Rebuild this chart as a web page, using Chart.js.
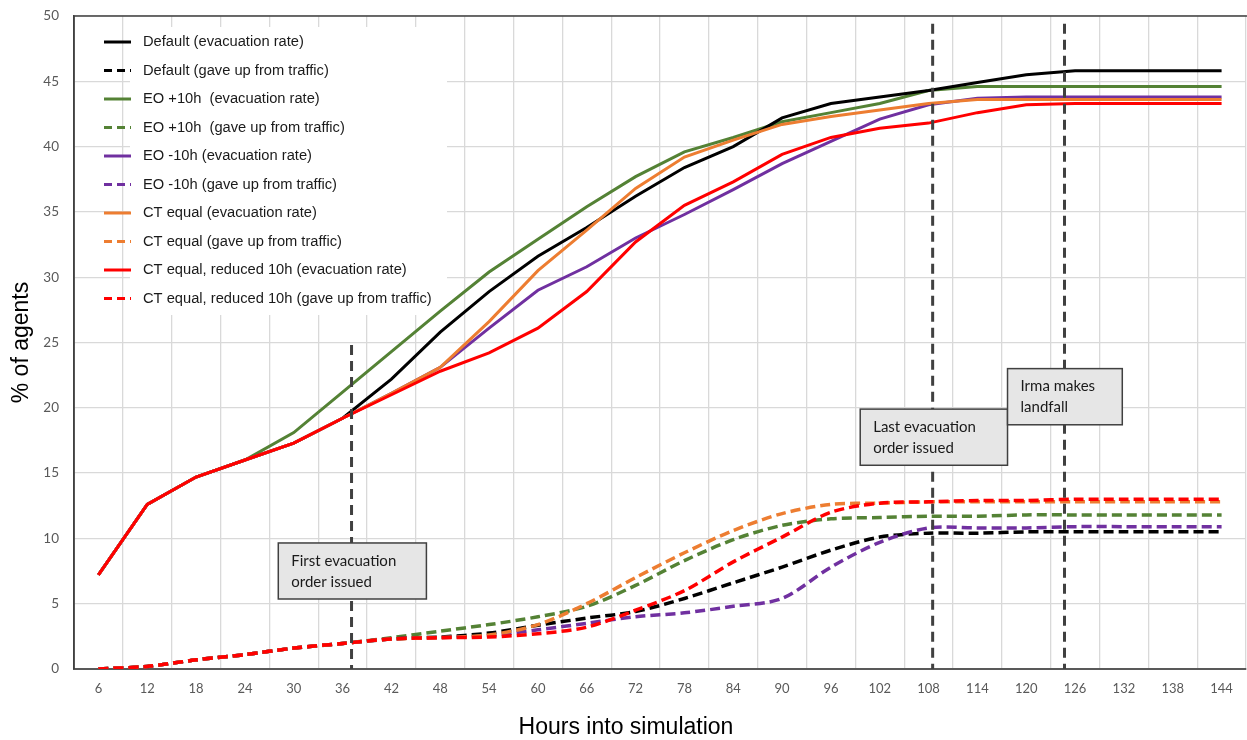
<!DOCTYPE html>
<html>
<head>
<meta charset="utf-8">
<script src="https://cdn.jsdelivr.net/npm/chart.js@4.4.1/dist/chart.umd.min.js"></script>
<style>
  body { margin: 0; background: #fff; }
  canvas { display: block; }
</style>
</head>
<body>
<canvas id="chart" width="1247" height="740"></canvas>
<script>
// hours into simulation (x categories)
const hours = [6, 12, 18, 24, 30, 36, 42, 48, 54, 60, 66, 72, 78, 84, 90, 96, 102, 108, 114, 120, 126, 132, 138, 144];

// % of agents
const defaultEvac   = [7.2, 12.6, 14.7, 16.0, 17.3, 19.2, 22.2, 25.8, 28.9, 31.6, 33.8, 36.2, 38.4, 40.0, 42.2, 43.3, 43.8, 44.3, 44.9, 45.5, 45.8, 45.8, 45.8, 45.8];
const defaultGaveUp = [0, 0.2, 0.7, 1.1, 1.6, 1.95, 2.3, 2.45, 2.75, 3.35, 3.9, 4.4, 5.4, 6.6, 7.8, 9.1, 10.1, 10.4, 10.4, 10.5, 10.5, 10.5, 10.5, 10.5];
const eoPlusEvac    = [7.2, 12.6, 14.7, 16.0, 18.1, 21.2, 24.3, 27.4, 30.4, 32.9, 35.4, 37.7, 39.6, 40.7, 41.9, 42.6, 43.3, 44.3, 44.6, 44.6, 44.6, 44.6, 44.6, 44.6];
const eoPlusGaveUp  = [0, 0.2, 0.7, 1.1, 1.6, 1.95, 2.4, 2.9, 3.4, 4.0, 4.8, 6.4, 8.3, 9.9, 11.0, 11.5, 11.6, 11.7, 11.7, 11.8, 11.8, 11.8, 11.8, 11.8];
const eoMinusEvac   = [7.2, 12.6, 14.7, 16.0, 17.3, 19.2, 21.1, 23.1, 26.1, 29.0, 30.8, 33.0, 34.8, 36.7, 38.7, 40.4, 42.1, 43.2, 43.7, 43.8, 43.8, 43.8, 43.8, 43.8];
const eoMinusGaveUp = [0, 0.2, 0.7, 1.1, 1.6, 1.95, 2.3, 2.4, 2.55, 3.0, 3.5, 4.0, 4.3, 4.8, 5.4, 7.8, 9.7, 10.8, 10.8, 10.8, 10.9, 10.9, 10.9, 10.9];
const ctEvac        = [7.2, 12.6, 14.7, 16.0, 17.3, 19.2, 21.1, 23.1, 26.6, 30.5, 33.6, 36.8, 39.2, 40.5, 41.7, 42.3, 42.8, 43.3, 43.6, 43.6, 43.6, 43.6, 43.6, 43.6];
const ctGaveUp      = [0, 0.2, 0.7, 1.1, 1.6, 1.95, 2.3, 2.4, 2.6, 3.4, 5.0, 7.0, 8.9, 10.6, 11.9, 12.6, 12.7, 12.8, 12.8, 12.8, 12.8, 12.8, 12.8, 12.8];
const ctRedEvac     = [7.2, 12.6, 14.7, 16.0, 17.3, 19.2, 21.0, 22.8, 24.2, 26.1, 28.9, 32.7, 35.5, 37.3, 39.4, 40.7, 41.4, 41.8, 42.6, 43.2, 43.3, 43.3, 43.3, 43.3];
const ctRedGaveUp   = [0, 0.2, 0.7, 1.1, 1.6, 1.95, 2.3, 2.4, 2.45, 2.7, 3.2, 4.5, 6.0, 8.2, 10.1, 12.0, 12.7, 12.8, 12.9, 12.9, 13.0, 13.0, 13.0, 13.0];

// event markers (hour of the dashed line, top of the line in %)
const eventHours = [37.1, 108.5, 124.7];
const eventTops  = [24.8, 49.4, 49.4];
const eventNotes = [
  { lines: ['First evacuation', 'order issued'], h0: 28.1, h1: 46.3, top: 9.65, bottom: 5.36 },
  { lines: ['Last evacuation', 'order issued'], h0: 99.6, h1: 117.7, top: 19.9, bottom: 15.6 },
  { lines: ['Irma makes', 'landfall'], h0: 117.7, h1: 131.8, top: 23.0, bottom: 18.7 }
];

const BLACK = '#000000', GREEN = '#548235', PURPLE = '#7030A0', ORANGE = '#ED7D31', RED = '#FF0000';

function solid(label, data, color, order) {
  return { label: label, data: data, borderColor: color, backgroundColor: color,
           borderWidth: 3, pointRadius: 0, tension: 0, order: order };
}
function dashed(label, data, color, order) {
  return { label: label, data: data, borderColor: color, backgroundColor: color,
           borderWidth: 3.5, borderDash: [10, 5], pointRadius: 0, tension: 0.3, order: order };
}

function hourPx(chart, h) {
  return chart.scales.x.getPixelForValue((h - 6) / 6);
}

const overlay = {
  id: 'overlay',
  beforeDatasetsDraw(chart) {
    const c = chart.ctx;
    c.save();
    c.fillStyle = '#ffffff';
    c.fillRect(130, 27, 317, 288);
    c.restore();
  },
  afterDatasetsDraw(chart) {
    const c = chart.ctx, y = chart.scales.y, a = chart.chartArea;
    c.save();
    // event lines
    c.strokeStyle = '#404040';
    c.lineWidth = 3;
    c.setLineDash([10, 6]);
    eventHours.forEach(function (h, i) {
      const px = hourPx(chart, h);
      c.beginPath();
      c.moveTo(px, y.getPixelForValue(eventTops[i]));
      c.lineTo(px, a.bottom);
      c.stroke();
    });
    c.setLineDash([]);
    // note boxes
    eventNotes.forEach(function (n) {
      const x0 = hourPx(chart, n.h0), x1 = hourPx(chart, n.h1);
      const y0 = y.getPixelForValue(n.top), y1 = y.getPixelForValue(n.bottom);
      c.fillStyle = '#e6e6e6';
      c.fillRect(x0, y0, x1 - x0, y1 - y0);
      c.strokeStyle = '#404040';
      c.lineWidth = 1.5;
      c.strokeRect(x0, y0, x1 - x0, y1 - y0);
      c.fillStyle = '#1a1a1a';
      c.font = '15px Lato';
      c.textBaseline = 'middle';
      c.textAlign = 'left';
      c.fillText(n.lines[0], x0 + 13, y0 + 18);
      c.fillText(n.lines[1], x0 + 13, y0 + 39);
    });
    // frame: top and left edges
    c.strokeStyle = '#404040';
    c.lineWidth = 1.5;
    c.beginPath();
    c.moveTo(a.left, a.bottom);
    c.lineTo(a.left, a.top);
    c.lineTo(a.right + 1, a.top);
    c.stroke();
    c.restore();
  },
  afterDraw(chart) {
    const c = chart.ctx;
    c.save();
    c.font = '14.7px "Liberation Sans", Arial';
    c.textBaseline = 'middle';
    c.textAlign = 'left';
    chart.data.datasets.forEach(function (ds, i) {
      const ly = 42 + 28.5 * i;
      c.strokeStyle = ds.borderColor;
      c.lineWidth = 3;
      c.setLineDash(ds.borderDash ? [8, 5] : []);
      c.beginPath();
      c.moveTo(104, ly);
      c.lineTo(131, ly);
      c.stroke();
      c.fillStyle = '#1a1a1a';
      c.fillText(ds.label, 143, ly);
    });
    // x axis title, centred on the whole figure
    c.font = '23px "Liberation Sans", Arial';
    c.fillStyle = '#000';
    c.textAlign = 'center';
    c.fillText('Hours into simulation', 626, 728);
    c.restore();
  }
};

new Chart(document.getElementById('chart'), {
  type: 'line',
  data: {
    labels: hours,
    datasets: [
      solid('Default (evacuation rate)', defaultEvac, BLACK, 8),
      dashed('Default (gave up from traffic)', defaultGaveUp, BLACK, 8),
      solid('EO +10h  (evacuation rate)', eoPlusEvac, GREEN, 9),
      dashed('EO +10h  (gave up from traffic)', eoPlusGaveUp, GREEN, 9),
      solid('EO -10h (evacuation rate)', eoMinusEvac, PURPLE, 7),
      dashed('EO -10h (gave up from traffic)', eoMinusGaveUp, PURPLE, 7),
      solid('CT equal (evacuation rate)', ctEvac, ORANGE, 6),
      dashed('CT equal (gave up from traffic)', ctGaveUp, ORANGE, 6),
      solid('CT equal, reduced 10h (evacuation rate)', ctRedEvac, RED, 1),
      dashed('CT equal, reduced 10h (gave up from traffic)', ctRedGaveUp, RED, 1)
    ]
  },
  options: {
    responsive: false,
    animation: false,
    devicePixelRatio: 1,
    layout: { padding: { top: 16, right: 1, left: 0, bottom: 0 } },
    plugins: { legend: { display: false }, tooltip: { enabled: false } },
    scales: {
      x: {
        type: 'category',
        offset: true,
        grid: { offset: true, color: '#d9d9d9', lineWidth: 1.3, drawTicks: false },
        border: { color: '#595959', width: 2 },
        ticks: { color: '#595959', font: { family: 'Lato', size: 13 }, padding: 12, autoSkip: false, maxRotation: 0 },
        afterFit(s) { s.height = 71; s.paddingLeft = 0; s.paddingRight = 0; }
      },
      y: {
        min: 0,
        max: 50,
        grid: { color: '#d9d9d9', lineWidth: 1.3, drawTicks: false },
        border: { color: '#404040', width: 1.5 },
        ticks: { stepSize: 5, color: '#595959', font: { family: 'Lato', size: 13.5 }, padding: 15 },
        title: { display: true, text: '% of agents', color: '#000',
                 font: { family: 'Liberation Sans', size: 23 }, padding: { top: 8, bottom: 0 } },
        afterFit(s) { s.width = 74; s.paddingTop = 0; s.paddingBottom = 0; }
      }
    }
  },
  plugins: [overlay]
});
</script>
</body>
</html>
